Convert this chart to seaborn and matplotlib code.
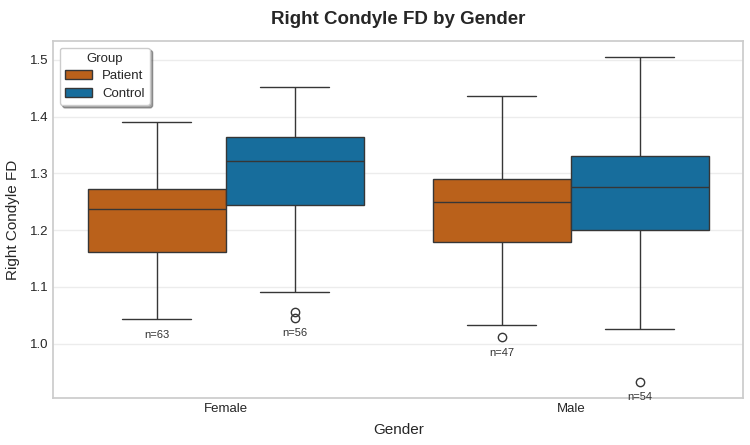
import pandas as pd
import numpy as np
import seaborn as sns
import matplotlib.pyplot as plt

# values (hand-picked so quartiles/whiskers/outliers match)
female_patient = [1.044, 1.10, 1.162, 1.20, 1.237, 1.25, 1.272, 1.33, 1.390]
female_control = [1.046, 1.056, 1.091, 1.2435, 1.27, 1.30, 1.322, 1.34, 1.35,
                  1.364, 1.39, 1.42, 1.452]
male_patient = [1.012, 1.0335, 1.180, 1.22, 1.2505, 1.27, 1.290, 1.36, 1.4365]
male_control = [0.933, 1.026, 1.1995, 1.24, 1.276, 1.30, 1.3305, 1.40, 1.505]

genders = ["Female", "Male"]
groups = ["Patient", "Control"]
n_counts = {("Female", "Patient"): 63, ("Female", "Control"): 56,
            ("Male", "Patient"): 47, ("Male", "Control"): 54}

series = {("Female", "Patient"): female_patient,
          ("Female", "Control"): female_control,
          ("Male", "Patient"): male_patient,
          ("Male", "Control"): male_control}

rows = []
for (g, grp), vals in series.items():
    for v in vals:
        rows.append({"Gender": g, "Group": grp, "Right Condyle FD": v})
df = pd.DataFrame(rows)

sns.set_theme(style="whitegrid")
plt.rcParams["font.family"] = ["Liberation Sans", "DejaVu Sans"]
plt.rcParams["axes.edgecolor"] = "#cccccc"
plt.rcParams["grid.color"] = "#ececec"

fig, ax = plt.subplots(figsize=(7.5, 4.45), dpi=100)
palette = {"Patient": "#D55E00", "Control": "#0173B2"}
sns.boxplot(data=df, x="Gender", y="Right Condyle FD", hue="Group",
            order=genders, hue_order=groups, palette=palette, ax=ax,
            flierprops={"marker": "o", "markerfacecolor": "none"})

# n labels under each box
offsets = {"Patient": -0.2, "Control": 0.2}
for i, g in enumerate(genders):
    for grp in groups:
        lo = min(series[(g, grp)])
        ax.text(i + offsets[grp], lo - 0.028, f"n={n_counts[(g, grp)]}",
                ha="center", va="center", fontsize=8, color="#333333")

ax.set_title("Right Condyle FD by Gender", fontsize=13.5, fontweight="bold", pad=12)
ax.set_xlabel("Gender", fontsize=11, labelpad=6)
ax.set_ylabel("Right Condyle FD", fontsize=11, labelpad=7)
ax.tick_params(labelsize=9.5, pad=3.5, length=0)
leg = ax.legend(title="Group", loc="upper left", frameon=True, shadow=True,
                fancybox=True, fontsize=9.5, title_fontsize=9.5,
                labelspacing=0.4)
leg.get_frame().set_edgecolor("#cccccc")

fig.subplots_adjust(left=0.071, right=0.991, top=0.908, bottom=0.106)
plt.savefig("out.png")
